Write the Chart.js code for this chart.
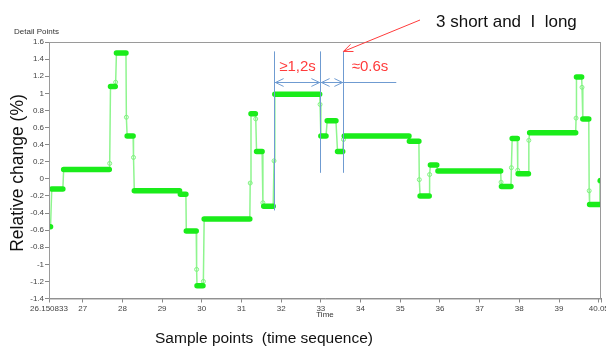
<!DOCTYPE html>
<html>
<head>
<meta charset="utf-8">
<script src="https://cdn.jsdelivr.net/npm/chart.js@4.4.0/dist/chart.umd.min.js"></script>
<style>
html, body { margin: 0; padding: 0; background: #fff; }
#wrap { position: relative; width: 606px; height: 347px; }
</style>
</head>
<body>
<div id="wrap"><canvas id="chart" width="606" height="347"></canvas></div>
<script>
// Plateaus: start time, end time, relative change (%)
const levelStart = [26.16, 26.22, 26.52, 27.70, 27.85, 28.12, 28.30, 29.46, 29.61, 29.88, 30.06,
    31.24, 31.38, 31.56, 31.84, 33.00, 33.16, 33.42, 33.59, 35.23, 35.50, 35.76, 35.95, 37.55,
    37.82, 37.97, 38.26, 39.44, 39.60, 39.77, 40.04];
const levelEnd = [26.19, 26.50, 27.67, 27.82, 28.09, 28.27, 29.44, 29.60, 29.86, 30.03, 31.21,
    31.35, 31.52, 31.80, 32.97, 33.13, 33.38, 33.55, 35.22, 35.47, 35.73, 35.92, 37.53, 37.79,
    37.95, 38.23, 39.42, 39.57, 39.75, 40.02, 40.058];
const levelValue = [-0.56, -0.12, 0.11, 1.08, 1.47, 0.50, -0.14, -0.18, -0.61, -1.25, -0.47,
    0.76, 0.32, -0.32, 0.99, 0.50, 0.68, 0.32, 0.50, 0.44, -0.20, 0.16, 0.09, -0.09,
    0.47, 0.06, 0.54, 1.19, 0.70, -0.30, -0.02];

// Single samples caught during a transition
const midTime = [27.68, 27.83, 28.10, 28.28, 29.87, 30.04, 31.22, 31.36, 31.54, 31.82, 32.98,
    33.57, 35.48, 35.74, 37.54, 37.80, 37.96, 38.24, 39.43, 39.58, 39.76, 40.03];
const midValue = [0.18, 1.13, 0.72, 0.25, -1.06, -1.20, -0.05, 0.70, -0.28, 0.21, 0.87,
    0.46, -0.01, 0.05, -0.04, 0.13, 0.10, 0.45, 0.71, 1.07, -0.14, -0.03];

const xMin = 26.150833;
const xMax = 40.058;
const xTickValues = [26.150833, 27, 28, 29, 30, 31, 32, 33, 34, 35, 36, 37, 38, 39, 40, 40.058];
const xHiddenLabels = [40]; // tick drawn, label covered by the end label
const yTickValues = [1.6, 1.4, 1.2, 1, 0.8, 0.6, 0.4, 0.2, 0, -0.2, -0.4, -0.6, -0.8, -1, -1.2, -1.4];

const FONT = '"Liberation Sans", Arial, sans-serif';

// thick bars for the plateaus, broken by nulls
const plateauData = [];
levelValue.forEach((v, i) => {
    plateauData.push({ x: levelStart[i], y: v }, { x: levelEnd[i], y: v }, { x: levelEnd[i], y: null });
});

// thin trace through every sample, in time order
const traceData = [];
levelValue.forEach((v, i) => traceData.push({ x: levelStart[i], y: v }, { x: levelEnd[i], y: v }));
midTime.forEach((t, i) => traceData.push({ x: t, y: midValue[i] }));
traceData.sort((a, b) => a.x - b.x);

const midData = midTime.map((t, i) => ({ x: t, y: midValue[i] }));

function chevron(ctx, x, y, ang, len, spread) {
    ctx.beginPath();
    ctx.moveTo(x + len * Math.cos(ang + spread), y + len * Math.sin(ang + spread));
    ctx.lineTo(x, y);
    ctx.lineTo(x + len * Math.cos(ang - spread), y + len * Math.sin(ang - spread));
    ctx.stroke();
}

const annotations = {
    id: 'annotations',
    afterDraw(chart) {
        const { ctx, chartArea: a, scales: { x, y } } = chart;
        ctx.save();

        // plot frame
        ctx.strokeStyle = '#9a9a9a';
        ctx.lineWidth = 1;
        ctx.strokeRect(a.left + 0.5, a.top + 0.5, a.right - a.left - 1, a.bottom - a.top);

        // small labels
        ctx.fillStyle = '#333';
        ctx.font = '8px ' + FONT;
        ctx.textBaseline = 'middle';
        ctx.textAlign = 'left';
        ctx.fillText('Detail Points', 14, 32);
        ctx.textAlign = 'center';
        ctx.fillText('Time', (a.left + a.right) / 2, 315);

        // big axis titles
        ctx.fillStyle = '#111';
        ctx.font = '15.5px ' + FONT;
        ctx.fillText('Sample points  (time sequence)', 264, 339);
        ctx.save();
        ctx.font = '17.5px ' + FONT;
        ctx.translate(18, 173);
        ctx.rotate(-Math.PI / 2);
        ctx.fillText('Relative change (%)', 0, 0);
        ctx.restore();

        // blue timing marks
        const marks = [31.82, 32.98, 33.56];
        const bottoms = [-0.37, 0.07, 0.07];
        const top = y.getPixelForValue(1.49);
        const ay = Math.round(y.getPixelForValue(1.134)) + 0.5;
        const px = marks.map(t => Math.round(x.getPixelForValue(t)) + 0.5);
        ctx.strokeStyle = '#6f9bd1';
        ctx.lineWidth = 1;
        px.forEach((p, i) => {
            ctx.beginPath();
            ctx.moveTo(p, top);
            ctx.lineTo(p, y.getPixelForValue(bottoms[i]));
            ctx.stroke();
        });
        ctx.beginPath();
        ctx.moveTo(px[0], ay);
        ctx.lineTo(x.getPixelForValue(34.90), ay);
        ctx.stroke();
        chevron(ctx, px[0] + 1, ay, 0, 9, 0.45);
        chevron(ctx, px[1] - 1, ay, Math.PI, 9, 0.45);
        chevron(ctx, px[1] + 1, ay, 0, 9, 0.45);
        chevron(ctx, px[2] - 1, ay, Math.PI, 9, 0.45);

        // red interval labels
        ctx.fillStyle = '#ff3b3b';
        ctx.font = '15px ' + FONT;
        ctx.textAlign = 'center';
        const ty = y.getPixelForValue(1.31);
        ctx.fillText('\u22651,2s', (px[0] + px[1]) / 2, ty);
        ctx.fillText('\u22480.6s', 370, ty);

        // callout
        const ex = px[2], ey = top;
        const sx = 420, sy = 20;
        ctx.strokeStyle = '#ff3b3b';
        ctx.beginPath();
        ctx.moveTo(sx, sy);
        ctx.lineTo(ex, ey);
        ctx.stroke();
        chevron(ctx, ex, ey, Math.atan2(sy - ey, sx - ex), 10, 0.4);

        ctx.fillStyle = '#111';
        ctx.font = '17px ' + FONT;
        ctx.textAlign = 'left';
        ctx.fillText('3 short and  I  long', 436, 22);

        ctx.restore();
    }
};

new Chart(document.getElementById('chart'), {
    type: 'line',
    data: {
        datasets: [
            {
                label: 'plateaus',
                data: plateauData,
                borderColor: '#1aec1a',
                borderWidth: 5.5,
                borderCapStyle: 'round',
                pointRadius: 0,
                spanGaps: false,
                order: 0
            },
            {
                label: 'transition samples',
                data: midData,
                showLine: false,
                pointRadius: 2,
                pointBorderWidth: 1,
                pointBorderColor: '#7ff27f',
                pointBackgroundColor: 'rgba(255,255,255,0)',
                order: 1
            },
            {
                label: 'trace',
                data: traceData,
                borderColor: '#8ef58e',
                borderWidth: 1.5,
                pointRadius: 0,
                order: 2
            }
        ]
    },
    options: {
        responsive: false,
        animation: false,
        devicePixelRatio: 1,
        layout: { padding: { left: 0, right: 3, top: 42, bottom: 0 } },
        plugins: { legend: { display: false }, tooltip: { enabled: false } },
        scales: {
            x: {
                type: 'linear',
                min: xMin,
                max: xMax,
                afterBuildTicks: s => { s.ticks = xTickValues.map(v => ({ value: v })); },
                afterFit: s => { s.height = 48.5; s.paddingLeft = 0; s.paddingRight = 0; },
                ticks: {
                    autoSkip: false, maxRotation: 0, padding: 1, color: '#444',
                    font: { size: 8, family: FONT },
                    callback: v => xHiddenLabels.includes(v) ? '' : String(v)
                },
                grid: { drawOnChartArea: false, tickLength: 4, color: '#888' },
                border: { color: '#888', width: 1 }
            },
            y: {
                min: -1.4,
                max: 1.6,
                afterBuildTicks: s => { s.ticks = yTickValues.map(v => ({ value: v })); },
                afterFit: s => { s.width = 49; s.paddingTop = 0; s.paddingBottom = 0; },
                ticks: {
                    autoSkip: false, padding: 1, color: '#444',
                    font: { size: 8, family: FONT },
                    callback: v => String(v)
                },
                grid: { drawOnChartArea: false, tickLength: 4, color: '#888' },
                border: { color: '#888', width: 1 }
            }
        }
    },
    plugins: [annotations]
});
</script>
</body>
</html>
